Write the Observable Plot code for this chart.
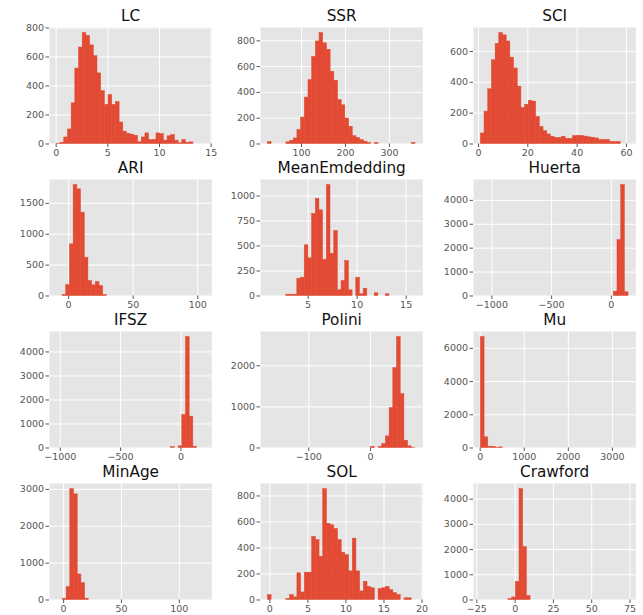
<!DOCTYPE html>
<html><head><meta charset="utf-8">
<script src="https://cdn.jsdelivr.net/npm/d3@7"></script>
<script src="https://cdn.jsdelivr.net/npm/@observablehq/plot@0.6"></script>
<style>
html,body{margin:0;padding:0;background:#fff;}
#chart{position:relative;width:643px;height:615px;overflow:hidden;font-family:"DejaVu Sans",sans-serif;}
#chart svg{position:absolute;}
</style></head><body><div id="chart"></div>
<script>
const titles = ["LC","SSR","SCI","ARI","MeanEmdedding","Huerta","IFSZ","Polini","Mu","MinAge","SOL","Crawford"];

// histogram counts, one array per panel (consecutive equal-width bins)
const countsLC = [2,8,45,100,280,520,665,765,745,680,605,487,365,270,338,270,290,148,85,70,64,57,12,45,73,27,27,73,68,23,53,62,23,5,27,9,11,0,0,1];
const countsSSR = [15,0,0,0,0,13,25,43,108,205,360,495,675,795,860,780,730,560,490,340,300,197,133,60,46,30,18,8,0,8,0,0,0,0,0,0,0,0,0,8];
const countsSCI = [68,210,355,543,650,720,705,665,560,490,372,234,255,280,275,175,110,83,62,47,40,40,47,34,34,51,53,53,48,43,40,36,26,26,26,13,13,13,0,1];
const countsARI = [16,178,836,1797,1727,1350,620,243,173,227,162,16];
const countsMean = [1,0,0,0,0,13,13,13,173,183,507,377,823,973,857,363,1110,423,650,57,150,350,57,0,183,17,73,0,0,27,0,0,17,0,0,0,0,0,0,1];
const countsHuerta = [1,0,0,0,0,0,0,0,0,0,0,0,0,0,0,0,0,0,0,0,0,0,0,0,0,0,0,0,0,0,0,0,0,0,0,0,180,2340,4640,153];
const countsIFSZ = [1,0,0,0,0,0,0,0,0,0,0,0,0,0,0,0,0,0,0,0,0,0,0,0,0,0,0,0,0,0,0,40,0,70,1375,4620,1305,55,0,1];
const countsPolini = [1,0,0,0,0,0,0,0,0,0,0,0,0,0,0,0,0,0,0,0,0,0,0,0,0,0,0,0,30,0,30,97,283,970,1943,2700,1310,178,40,3];
const countsMu = [6680,640,80,70,20,40,0,0,0,0,0,0,0,0,0,0,0,0,0,0,0,0,0,0,0,0,0,0,0,0,0,0,0,0,0,0,0,0,0,1];
const countsMinAge = [36,350,3010,2866,692,458,36];
const countsSOL = [38,0,0,0,0,8,38,20,205,58,210,210,485,460,332,853,586,574,546,460,363,345,220,472,220,66,140,100,90,0,84,90,100,76,53,38,0,13,13,1];
const countsCrawford = [40,100,720,4400,2100,157];
const allCounts = [countsLC,countsSSR,countsSCI,countsARI,countsMean,countsHuerta,countsIFSZ,countsPolini,countsMu,countsMinAge,countsSOL,countsCrawford];

// left edge of first bin and bin width for each panel
const binStart = [0.07, 23.6, 0.95, -4.68, 0.89, -1092, -1028, -166.4, 15.4, -0.58, -0.26, -4.38];
const binWidth = [0.357, 8.39, 1.495, 2.86, 0.376, 30.9, 30.56, 5.985, 83.7, 3.19, 0.485, 2.41];

// x axis ranges and tick values
const xDomains = [[-0.645,15.06],[6.8,375.8],[-2.04,63.8],[-14.8,110.9],[0.14,16.7],[-1154,204.5],[-1089,255.6],[-178.4,84.9],[-152,3531],[-12.2,128.1],[-1.23,20.1],[-27.2,78.8]];
const xTicks = [[0,5,10,15],[100,200,300],[0,20,40,60],[0,50,100],[5,10,15],[-1000,-500,0],[-1000,-500,0],[-100,0],[0,1000,2000,3000],[0,50,100],[0,5,10,15,20],[-25,0,25,50,75]];
const yTicks = [[0,200,400,600,800],[0,200,400,600,800],[0,200,400,600],[0,500,1000,1500],[0,250,500,750,1000],[0,1000,2000,3000,4000],[0,1000,2000,3000,4000],[0,1000,2000],[0,2000,4000,6000],[0,1000,2000,3000],[0,200,400,600,800],[0,1000,2000,3000,4000]];

// layout
const colLeft = [48.5, 260, 472.8];
const rowTop = [26.5, 178.8, 331, 483.3];
const PW = 162.3, PH = 116.5;
const ML = 48, MR = 12, MT = 28, MB = 22;
const fmt = d => d < 0 ? "\u2212" + (-d) : String(d);

const root = document.getElementById("chart");
titles.forEach((title, k) => {
  const counts = allCounts[k];
  const bins = counts.map((c, i) => ({
    x1: binStart[k] + i * binWidth[k],
    x2: binStart[k] + (i + 1) * binWidth[k],
    y1: 0, y2: c
  })).filter(d => d.y2 > 1);
  const ymax = d3.max(counts) * 1.05;
  const svg = Plot.plot({
    width: PW + ML + MR, height: PH + MT + MB,
    marginLeft: ML, marginRight: MR, marginTop: MT, marginBottom: MB,
    style: {background: "transparent", fontFamily: "DejaVu Sans, sans-serif", overflow: "visible"},
    x: {domain: xDomains[k], axis: null},
    y: {domain: [0, ymax], axis: null},
    marks: [
      Plot.frame({fill: "#E5E5E5", stroke: "none"}),
      Plot.gridX(xTicks[k], {stroke: "white", strokeOpacity: 1, strokeWidth: 1}),
      Plot.gridY(yTicks[k], {stroke: "white", strokeOpacity: 1, strokeWidth: 1}),
      Plot.rect(bins, {x1: "x1", x2: "x2", y1: "y1", y2: "y2", fill: "#E24A33", stroke: "#E24A33", strokeWidth: 0.5}),
      Plot.axisX(xTicks[k], {tickSize: 3.5, tickPadding: 2, fontSize: 9.5, color: "#555555", tickFormat: fmt}),
      Plot.axisY(yTicks[k], {tickSize: 3.5, tickPadding: 2, fontSize: 9.5, color: "#555555", tickFormat: fmt}),
      Plot.text([title], {frameAnchor: "top", dy: -6, lineAnchor: "bottom", fontSize: 15.3, fill: "#111111"})
    ]
  });
  const c = k % 3, r = Math.floor(k / 3);
  svg.style.left = (colLeft[c] - ML) + "px";
  svg.style.top = (rowTop[r] - MT) + "px";
  root.appendChild(svg);
});
</script></body></html>
